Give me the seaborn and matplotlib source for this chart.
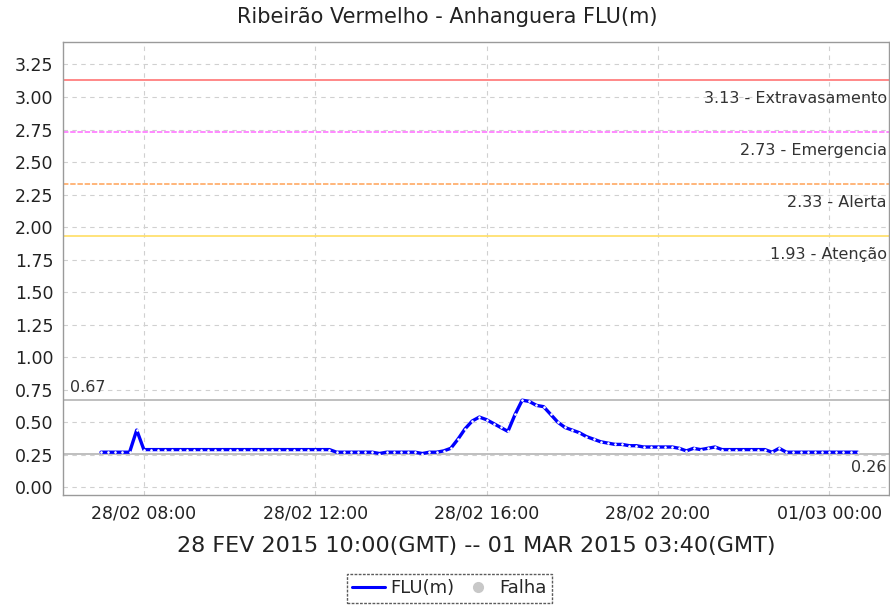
import numpy as np
import pandas as pd
import matplotlib
matplotlib.use("Agg")
import matplotlib.pyplot as plt
import matplotlib.dates as mdates
from matplotlib.lines import Line2D
import seaborn as sns

# level readings every 10 minutes, 28/02 07:00 -> 01/03 00:40 (local time)
start_time = "2015-02-28 07:00"
level = [
    # 07h
    0.27, 0.27, 0.27, 0.27, 0.27, 0.44,
    # 08h
    0.29, 0.29, 0.29, 0.29, 0.29, 0.29,
    # 09h
    0.29, 0.29, 0.29, 0.29, 0.29, 0.29,
    # 10h
    0.29, 0.29, 0.29, 0.29, 0.29, 0.29,
    # 11h
    0.29, 0.29, 0.29, 0.29, 0.29, 0.29,
    # 12h
    0.29, 0.29, 0.29, 0.27, 0.27, 0.27,
    # 13h
    0.27, 0.27, 0.27, 0.26, 0.27, 0.27,
    # 14h
    0.27, 0.27, 0.27, 0.26, 0.27, 0.27,
    # 15h
    0.28, 0.30, 0.37, 0.45, 0.51, 0.54,
    # 16h
    0.52, 0.49, 0.46, 0.43, 0.56, 0.67,
    # 17h
    0.66, 0.63, 0.62, 0.56, 0.50, 0.46,
    # 18h
    0.44, 0.42, 0.39, 0.37, 0.35, 0.34,
    # 19h
    0.33, 0.33, 0.32, 0.32, 0.31, 0.31,
    # 20h
    0.31, 0.31, 0.31, 0.30, 0.28, 0.30,
    # 21h
    0.29, 0.30, 0.31, 0.29, 0.29, 0.29,
    # 22h
    0.29, 0.29, 0.29, 0.29, 0.27, 0.30,
    # 23h
    0.27, 0.27, 0.27, 0.27, 0.27, 0.27,
    # 00h
    0.27, 0.27, 0.27, 0.27, 0.27,
]

limit_values = [3.13, 2.73, 2.33, 1.93]
limit_names = ["Extravasamento", "Emergencia", "Alerta", "Atenção"]
limit_colors = ["#ff7f7f", "#ff80ff", "#ffb070", "#ffe070"]
limit_styles = ["-", "--", "--", "-"]

max_value = 0.67
min_value = 0.26

y_ticks = [0.00, 0.25, 0.50, 0.75, 1.00, 1.25, 1.50, 1.75, 2.00, 2.25, 2.50, 2.75, 3.00, 3.25]
x_ticks = ["2015-02-28 08:00", "2015-02-28 12:00", "2015-02-28 16:00",
           "2015-02-28 20:00", "2015-03-01 00:00"]

df = pd.DataFrame({
    "time": pd.date_range(start_time, periods=len(level), freq="10min"),
    "level": level,
})

sns.set_style("white")
plt.rcParams["font.family"] = ["DejaVu Sans"]

fig = plt.figure(figsize=(8.9, 6.14), dpi=100)
ax = fig.add_axes([0.071, 0.194, 0.928, 0.737])

# grid
ax.set_axisbelow(True)
ax.grid(True, color="#d0d0d0", linestyle=(0, (4, 4)), linewidth=0.8)

# threshold lines
for val, name, col, ls in zip(limit_values, limit_names, limit_colors, limit_styles):
    ax.axhline(val, color=col, linestyle=ls, linewidth=1.3, dashes=(3, 1) if ls == "--" else (None, None))
    ax.annotate(f"{val:.2f} - {name}", xy=(0.997, val), xycoords=("axes fraction", "data"),
                xytext=(0, -8), textcoords="offset points", ha="right", va="top",
                fontsize=11.5, color="#333333")

# max / min markers
ax.axhline(max_value, color="#b4b4b4", linewidth=1.2)
ax.axhline(min_value, color="#b4b4b4", linewidth=1.2)
ax.annotate(f"{max_value:.2f}", xy=(0.008, max_value), xycoords=("axes fraction", "data"),
            xytext=(0, 4), textcoords="offset points", ha="left", va="bottom",
            fontsize=11.5, color="#333333")
ax.annotate(f"{min_value:.2f}", xy=(0.997, min_value), xycoords=("axes fraction", "data"),
            xytext=(0, -5), textcoords="offset points", ha="right", va="top",
            fontsize=11.5, color="#333333")

sns.lineplot(data=df, x="time", y="level", ax=ax, color="#0000ff", linewidth=2.4,
             marker="o", markersize=1.1, markerfacecolor="white", markeredgecolor="white",
             legend=False)

ax.set_ylim(-0.058, 3.42)
ax.set_yticks(y_ticks)
ax.set_yticklabels([f"{v:.2f}" for v in y_ticks])
ax.set_xlim(pd.Timestamp("2015-02-28 06:07"), pd.Timestamp("2015-03-01 01:24"))
ax.set_xticks(pd.to_datetime(x_ticks))
ax.xaxis.set_major_formatter(mdates.DateFormatter("%d/%m %H:%M"))

ax.tick_params(axis="both", direction="out", length=4, width=0.8, color="#808080",
               labelsize=12.5, labelcolor="#222222", pad=3)
for sp in ax.spines.values():
    sp.set_color("#9a9a9a")
    sp.set_linewidth(1.0)

ax.set_ylabel("")
ax.set_xlabel("28 FEV 2015 10:00(GMT) -- 01 MAR 2015 03:40(GMT)", fontsize=16,
              color="#222222", labelpad=10)
fig.suptitle("Ribeirão Vermelho - Anhanguera FLU(m)", fontsize=15, color="#222222",
             x=0.502, y=0.988)

handles = [
    Line2D([], [], color="#0000ff", linewidth=2.2),
    Line2D([], [], color="#c8c8c8", marker="o", linestyle="none", markersize=7),
]
leg = fig.legend(handles, ["FLU(m)", "Falha"], loc="lower center", bbox_to_anchor=(0.505, 0.004),
                 ncol=2, frameon=True, fancybox=False, fontsize=13, handlelength=1.8,
                 handletextpad=0.3, columnspacing=0.4, borderpad=0.3)
frame = leg.get_frame()
frame.set_edgecolor("#333333")
frame.set_linestyle((0, (2, 1)))
frame.set_linewidth(1.0)

fig.savefig("out.png", dpi=100)
